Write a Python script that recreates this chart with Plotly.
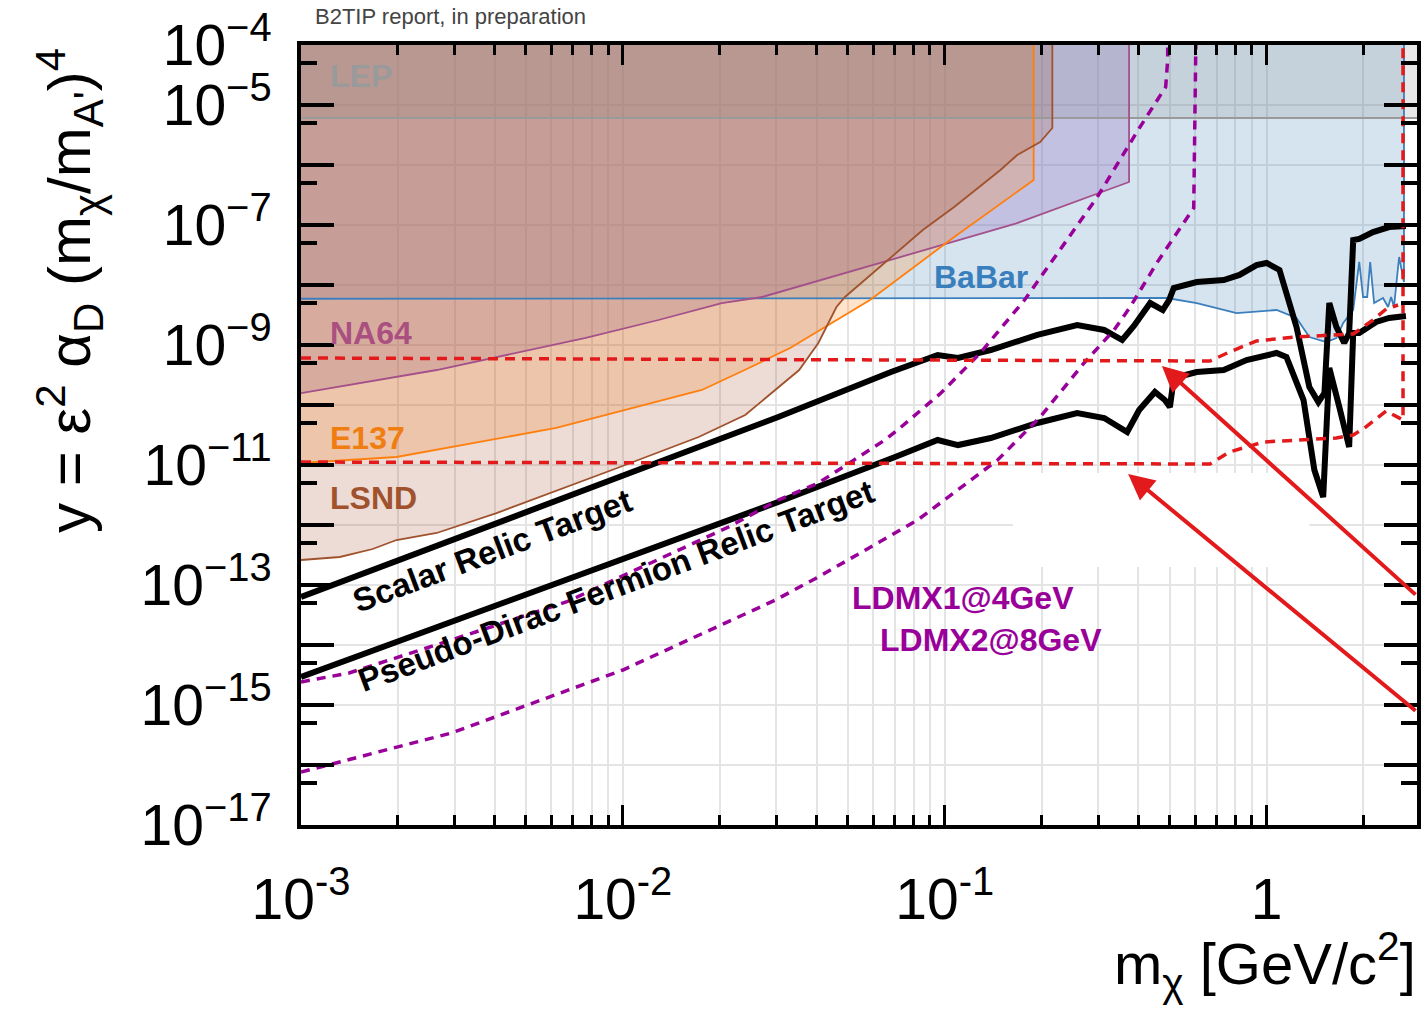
import plotly.graph_objects as go

# ---------------- data (m_chi in GeV, y dimensionless) ----------------
lep_y = 6.07e-6

babar_m = [1e-3, 0.194, 0.490, 0.607, 0.807, 1.074, 1.239, 1.358, 1.534, 1.648, 1.731,
           1.859, 1.941, 1.995, 2.055, 2.099, 2.159, 2.301, 2.386, 2.438, 2.489, 2.582,
           2.673, 2.673]
babar_y = [5.9e-9, 6.07e-9, 6.07e-9, 5.01e-9, 3.41e-9, 3.83e-9, 2.82e-9, 1.36e-9, 1.12e-9,
           1.31e-9, 2.33e-9, 3.83e-9, 2.42e-8, 6.31e-9, 6.31e-9, 2.42e-8, 5.01e-9, 6.07e-9,
           4.3e-9, 6.3e-9, 4.3e-9, 2.93e-8, 1.12e-8, 1e-4]

na64_m = [1e-3, 2.64e-3, 7.67e-3, 1.29e-2, 2.03e-2, 2.71e-2, 0.165, 0.374, 0.374]
na64_y = [1.58e-10, 3.83e-10, 1.31e-9, 2.61e-9, 5.01e-9, 6.31e-9, 1.04e-7, 5.21e-7, 1e-4]

e137_m = [1e-3, 1.98e-3, 6.21e-3, 1.76e-2, 2.39e-2, 3.31e-2, 5.86e-2, 0.107, 0.189, 0.189]
e137_y = [1.08e-11, 1.36e-11, 4.14e-11, 1.78e-10, 3.83e-10, 8.91e-10, 5.62e-9, 6.31e-8,
          5.62e-7, 1e-4]

lsnd_m = [1e-3, 1.32e-3, 1.67e-3, 1.98e-3, 2.64e-3, 4.05e-3, 9.25e-3, 1.72e-2, 2.40e-2,
          3.04e-2, 3.53e-2, 4.05e-2, 4.61e-2, 4.90e-2, 6.81e-2, 8.55e-2, 0.107, 0.149,
          0.168, 0.198, 0.216, 0.216]
lsnd_y = [2.61e-13, 2.93e-13, 3.98e-13, 5.62e-13, 7.36e-13, 1.58e-12, 8.25e-12, 2.93e-11,
          6.81e-11, 2.0e-10, 3.83e-10, 1.08e-9, 4.3e-9, 6.31e-9, 2.93e-8, 8.25e-8, 2.0e-7,
          8.25e-7, 1.47e-6, 2.42e-6, 4.14e-6, 1e-4]

scalar_m = [1e-3, 3.04e-2, 6.81e-2, 9.51e-2, 0.110, 0.139, 0.194, 0.258, 0.313, 0.356,
            0.387, 0.435, 0.476, 0.498, 0.515, 0.607, 0.736, 0.824, 0.931, 1.0, 1.097,
            1.239, 1.358, 1.449, 1.513, 1.567, 1.648, 1.743, 1.806, 1.859, 1.941, 2.143,
            2.404, 2.711]
scalar_y = [6.31e-14, 6.31e-11, 3.55e-10, 6.81e-10, 6.07e-10, 8.25e-10, 1.47e-9, 2.15e-9,
            1.78e-9, 1.21e-9, 2.07e-9, 5.01e-9, 3.83e-9, 5.62e-9, 8.91e-9, 1.12e-8,
            1.21e-8, 1.47e-8, 2.15e-8, 2.33e-8, 1.78e-8, 2.0e-9, 2.0e-10, 1.12e-10,
            1.58e-10, 5.01e-9, 2.0e-9, 1.08e-9, 1.58e-9, 5.62e-8, 5.85e-8, 7.64e-8,
            9.25e-8, 9.62e-8]

pseudo_m = [1e-3, 3.04e-2, 7.14e-2, 9.51e-2, 0.110, 0.139, 0.194, 0.258, 0.313, 0.369,
            0.402, 0.450, 0.483, 0.501, 0.515, 0.607, 0.736, 0.867, 1.074, 1.153, 1.303,
            1.408, 1.500, 1.567, 1.683, 1.806, 1.859, 1.941, 2.191, 2.404, 2.711]
pseudo_y = [2.93e-15, 2.42e-12, 1.41e-11, 2.61e-11, 2.15e-11, 2.82e-11, 5.01e-11, 7.36e-11,
            6.07e-11, 3.55e-11, 8.25e-11, 1.65e-10, 1.21e-10, 9.25e-11, 2.82e-10, 3.55e-10,
            3.83e-10, 5.62e-10, 7.36e-10, 6.31e-10, 1.21e-10, 8.25e-12, 2.93e-12, 4.14e-10,
            9.25e-11, 2.0e-11, 1.58e-9, 1.58e-9, 2.42e-9, 2.82e-9, 3.04e-9]

ldmx1_m = [1e-3, 1.41e-3, 2.93e-3, 6.67e-3, 2.13e-2, 3.04e-2, 4.05e-2, 6.52e-2, 7.14e-2,
           9.73e-2, 0.129, 0.177, 0.298, 0.399, 0.486, 0.493, 0.493]
ldmx1_y = [2.42e-15, 3.41e-15, 1.21e-14, 5.21e-14, 9.25e-13, 2.61e-12, 5.01e-12, 2.61e-11,
           3.83e-11, 1.58e-10, 7.36e-10, 5.62e-9, 2.93e-7, 3.83e-6, 2.0e-5, 5.62e-5, 1e-4]

ldmx2_m = [1e-3, 2.93e-3, 1e-2, 2.98e-2, 4.05e-2, 8.24e-2, 0.146, 0.168, 0.198, 0.271,
           0.336, 0.377, 0.456, 0.594, 0.603]
ldmx2_y = [7.64e-17, 3.41e-16, 3.83e-15, 5.62e-14, 1.36e-13, 1.21e-12, 1.21e-11, 2.61e-11,
           6.31e-11, 5.01e-10, 1.78e-9, 4.3e-9, 2.33e-8, 1.92e-7, 1e-4]

belle_hi_m = [1e-3, 0.667, 0.767, 0.931, 1.239, 1.859, 2.143, 2.354, 2.563]
belle_hi_y = [6.07e-10, 5.41e-10, 7.64e-10, 1.17e-9, 1.36e-9, 1.53e-9, 2.61e-9, 3.98e-9,
              4.64e-9]
belle_lo_m = [1e-3, 0.667, 0.767, 0.980, 1.648, 1.859, 1.995, 2.354, 2.655, 2.655]
belle_lo_y = [1.12e-11, 1.04e-11, 1.65e-11, 2.42e-11, 2.82e-11, 3.16e-11, 3.98e-11,
              7.94e-11, 5.62e-11, 1e-4]

x_tick_vals = [1e-3, 1e-2, 1e-1, 1]
x_tick_text = ["10<sup>-3</sup>", "10<sup>-2</sup>", "10<sup>-1</sup>", "1"]
y_tick_vals = [1e-17, 1e-16, 1e-15, 1e-14, 1e-13, 1e-12, 1e-11, 1e-10, 1e-9, 1e-8, 1e-7,
               1e-6, 1e-5, 1e-4]
y_tick_text = ["10<sup>\u221217</sup>", "", "10<sup>\u221215</sup>", "",
               "10<sup>\u221213</sup>", "", "10<sup>\u221211</sup>", "",
               "10<sup>\u22129</sup>", "", "10<sup>\u22127</sup>", "",
               "10<sup>\u22125</sup>", "10<sup>\u22124</sup>"]
x_minor_vals = [k * d for d in (1e-3, 1e-2, 1e-1, 1) for k in range(2, 10)]
y_minor_vals = [5 * 10.0 ** p for p in range(-18, -4)]

FONT = "Liberation Sans, Arial, Helvetica, sans-serif"
Y_TOP = 1e-4
X_MIN = 1e-3

fig = go.Figure()

# empty legend box (white) hiding the grid behind it
fig.add_trace(go.Scatter(x=[0.163, 1.358, 1.358, 0.163], y=[2.0e-13, 2.0e-13, 7.36e-12, 7.36e-12],
                         fill="toself", fillcolor="white", mode="none", hoverinfo="skip"))


def region(m, y, fillcolor):
    fig.add_trace(go.Scatter(x=list(m) + [X_MIN], y=list(y) + [Y_TOP], fill="toself",
                             fillcolor=fillcolor, mode="none", hoverinfo="skip"))


# excluded regions (fills)
region(babar_m, babar_y, "rgba(70,130,180,0.22)")
region(na64_m, na64_y, "rgba(148,103,189,0.28)")
region(e137_m, e137_y, "rgba(255,127,14,0.22)")
region(lsnd_m, lsnd_y, "rgba(160,82,45,0.20)")
fig.add_trace(go.Scatter(x=[X_MIN, 3.0, 3.0, X_MIN], y=[lep_y, lep_y, Y_TOP, Y_TOP],
                         fill="toself", fillcolor="rgba(128,128,128,0.18)", mode="none",
                         hoverinfo="skip"))


def line(m, y, color, width, dash="solid"):
    fig.add_trace(go.Scatter(x=m, y=y, mode="lines", hoverinfo="skip",
                             line=dict(color=color, width=width, dash=dash)))


# region boundaries
line([X_MIN, 3.0], [lep_y, lep_y], "#9a9a9a", 2)
line(babar_m, babar_y, "#3c7fbd", 1.8)
line(na64_m, na64_y, "#a4508a", 1.8)
line(e137_m, e137_y, "#ff7f0e", 1.8)
line(lsnd_m, lsnd_y, "#a0522d", 1.8)

# relic targets
line(scalar_m, scalar_y, "black", 6)
line(pseudo_m, pseudo_y, "black", 6)

# LDMX projections
line(ldmx1_m, ldmx1_y, "#990099", 3.5, "9px,7px")
line(ldmx2_m, ldmx2_y, "#990099", 3.5, "9px,7px")

# Belle II projections
line(belle_hi_m, belle_hi_y, "#e31a1c", 3.5, "10px,7px")
line(belle_lo_m, belle_lo_y, "#e31a1c", 3.5, "10px,7px")

annotations = []


def label(text, x, y, color, size=32, angle=0, xanchor="left"):
    annotations.append(dict(text=text, x=x, y=y, xref="x", yref="y", showarrow=False,
                            xanchor=xanchor, yanchor="middle", textangle=angle,
                            font=dict(family=FONT, size=size, color=color, weight="bold")))


label("LEP", -2.916, -4.517, "#9a9a9a")
label("NA64", -2.916, -8.8, "#aa5080")
label("E137", -2.916, -10.55, "#ef7d12")
label("LSND", -2.916, -11.55, "#a0522d")
label("BaBar", -1.040, -7.867, "#3a7fbd")
label("LDMX1@4GeV", -1.294, -13.217, "#990099")
label("LDMX2@8GeV", -1.207, -13.917, "#990099")
label("Scalar Relic Target", -2.405, -12.43, "black", size=33, angle=-20.5, xanchor="center")
label("Pseudo-Dirac Fermion Relic Target", -2.02, -13.0, "black", size=33, angle=-20.5,
      xanchor="center")

# arrows pointing at the Belle II curves
for hx, hy, tx, ty in [(-0.325, -9.35, 0.4675, -13.183), (-0.430, -11.15, 0.4675, -15.117)]:
    annotations.append(dict(text="", x=hx, y=hy, ax=tx, ay=ty, xref="x", yref="y",
                            axref="x", ayref="y", showarrow=True, arrowhead=2,
                            arrowsize=1.3, arrowwidth=4, arrowcolor="#e31a1c"))

# axis titles and header
annotations.append(dict(text="y = \u03b5<sup>2</sup> \u03b1<sub>D</sub> (m<sub>\u03c7</sub>/m<sub>A'</sub>)<sup>4</sup>",
                        x=-0.207, y=0.686, xref="paper", yref="paper", showarrow=False,
                        textangle=-90, xanchor="center", yanchor="middle",
                        font=dict(family=FONT, size=60, color="black")))
annotations.append(dict(text="m<sub>\u03c7</sub> [GeV/c<sup>2</sup>]", x=1.001, y=-0.179,
                        xref="paper", yref="paper", showarrow=False, xanchor="right",
                        yanchor="middle", font=dict(family=FONT, size=58, color="black")))
annotations.append(dict(text="B2TIP report, in preparation", x=0.0107, y=1.037,
                        xref="paper", yref="paper", showarrow=False, xanchor="left",
                        yanchor="middle", font=dict(family=FONT, size=22, color="#444444")))

GRID = "#e4e4e4"
fig.update_layout(
    width=1421, height=1010,
    margin=dict(l=301, r=0, t=45, b=185),
    plot_bgcolor="white", paper_bgcolor="white",
    showlegend=False,
    font=dict(family=FONT, color="black"),
    annotations=annotations,
    xaxis=dict(type="log", range=[-3, 0.4675], showline=True, linewidth=4,
               linecolor="black", mirror="ticks", ticks="inside", ticklen=20, tickwidth=3,
               tickcolor="black", tickmode="array", tickvals=x_tick_vals,
               ticktext=x_tick_text, tickfont=dict(family=FONT, size=57, color="black"),
               ticklabelstandoff=22, showgrid=True, gridcolor=GRID, gridwidth=2,
               zeroline=False,
               minor=dict(tickmode="array", tickvals=x_minor_vals, ticks="inside",
                          ticklen=10, tickwidth=3, tickcolor="black", showgrid=True,
                          gridcolor=GRID, gridwidth=2)),
    yaxis=dict(type="log", range=[-17, -4], showline=True, linewidth=4,
               linecolor="black", mirror="ticks", ticks="inside", ticklen=33, tickwidth=4,
               tickcolor="black", tickmode="array", tickvals=y_tick_vals,
               ticktext=y_tick_text, tickfont=dict(family=FONT, size=57, color="black"),
               ticklabelstandoff=14, showgrid=True, gridcolor=GRID, gridwidth=2,
               zeroline=False,
               minor=dict(tickmode="array", tickvals=y_minor_vals, ticks="inside",
                          ticklen=16, tickwidth=4, tickcolor="black", showgrid=False)),
)

fig.write_html("out.html")
